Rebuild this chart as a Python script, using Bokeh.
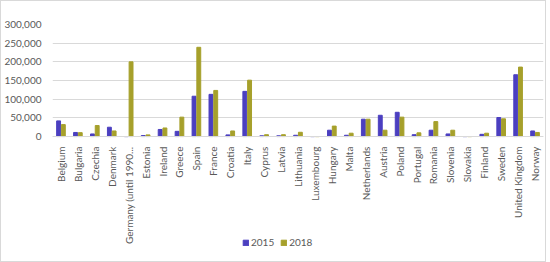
import math
from bokeh.plotting import figure
from bokeh.models import FactorRange, ColumnDataSource, NumeralTickFormatter, Legend, LegendItem, Range1d
from bokeh.transform import dodge
from bokeh.embed import file_html
from bokeh.resources import INLINE

countries = ["Belgium", "Bulgaria", "Czechia", "Denmark", "Germany (until 1990...", "Estonia",
             "Ireland", "Greece", "Spain", "France", "Croatia", "Italy", "Cyprus", "Latvia",
             "Lithuania", "Luxembourg", "Hungary", "Malta", "Netherlands", "Austria", "Poland",
             "Portugal", "Romania", "Slovenia", "Slovakia", "Finland", "Sweden", "United Kingdom",
             "Norway"]
v2015 = [42000, 11000, 7000, 25000, 0, 2700, 19000, 14000, 108000, 113000, 4500, 121000, 2000, 2000,
         3500, 0, 17000, 3500, 46500, 57000, 65000, 5000, 17000, 7000, 0, 6000, 51000, 165500, 15000]
v2018 = [32000, 10500, 29500, 15000, 200000, 4500, 23000, 52000, 239000, 123500, 15000, 151000, 5000, 5000,
         11500, 0, 28000, 9000, 46500, 17000, 52000, 10000, 40000, 17000, 0, 9000, 47500, 186000, 11000]
years = ["2015", "2018"]
y_ticks = [0, 50000, 100000, 150000, 200000, 250000, 300000]

src = ColumnDataSource(dict(c=countries, a=v2015, b=v2018))

FONT = "Lato"
# frame extends down to the legend; the category axis is drawn at y = 0 inside it
p = figure(x_range=FactorRange(*countries), y_range=Range1d(-305000, 300000),
           frame_width=491, frame_height=226,
           min_border_left=50, min_border_top=23, min_border_right=5, min_border_bottom=0,
           output_backend="svg", toolbar_location=None)

r1 = p.vbar(x=dodge("c", -0.14, range=p.x_range), top="a", width=0.23, source=src,
            color="#4B3FC0")
r2 = p.vbar(x=dodge("c", 0.14, range=p.x_range), top="b", width=0.23, source=src,
            color="#A6A02B")

p.outline_line_color = None
p.xgrid.grid_line_color = None
p.ygrid.grid_line_color = "#D9D9D9"
p.ygrid.ticker = y_ticks
p.yaxis.ticker = y_ticks
p.yaxis.formatter = NumeralTickFormatter(format="0,0")
p.yaxis.axis_line_color = None
p.yaxis.major_tick_line_color = None
p.yaxis.minor_tick_line_color = None
p.yaxis.major_label_text_font = FONT
p.yaxis.major_label_text_font_size = "10px"
p.yaxis.major_label_text_color = "#595959"
p.yaxis.major_label_standoff = 5

p.xaxis.fixed_location = 0
p.xaxis.axis_line_color = "#D9D9D9"
p.xaxis.major_tick_line_color = None
p.xaxis.minor_tick_line_color = None
p.xaxis.major_label_orientation = math.pi / 2
p.xaxis.major_label_text_font = FONT
p.xaxis.major_label_text_font_size = "10px"
p.xaxis.major_label_text_color = "#595959"
p.xaxis.major_label_standoff = 4
p.x_range.range_padding = 0
p.x_range.group_padding = 0

legend = Legend(items=[LegendItem(label=years[0], renderers=[r1]),
                       LegendItem(label=years[1], renderers=[r2])],
                orientation="horizontal", location=(190, 2))
legend.label_text_font = FONT
legend.label_text_font_size = "10px"
legend.label_text_color = "#595959"
legend.label_height = 12
legend.glyph_width = 7
legend.glyph_height = 7
legend.spacing = 6
legend.label_standoff = 2
legend.padding = 2
legend.margin = 0
legend.border_line_color = None
legend.background_fill_alpha = 0
p.add_layout(legend, "center")

html = file_html(p, INLINE)
html = html.replace(
    "<head>",
    "<head><style>html{margin:0;padding:0;} body{margin:0;padding:0;border:1px solid #D9D9D9;"
    "width:546px;height:258px;overflow:hidden;}</style>", 1)
open("out.html", "w").write(html)
